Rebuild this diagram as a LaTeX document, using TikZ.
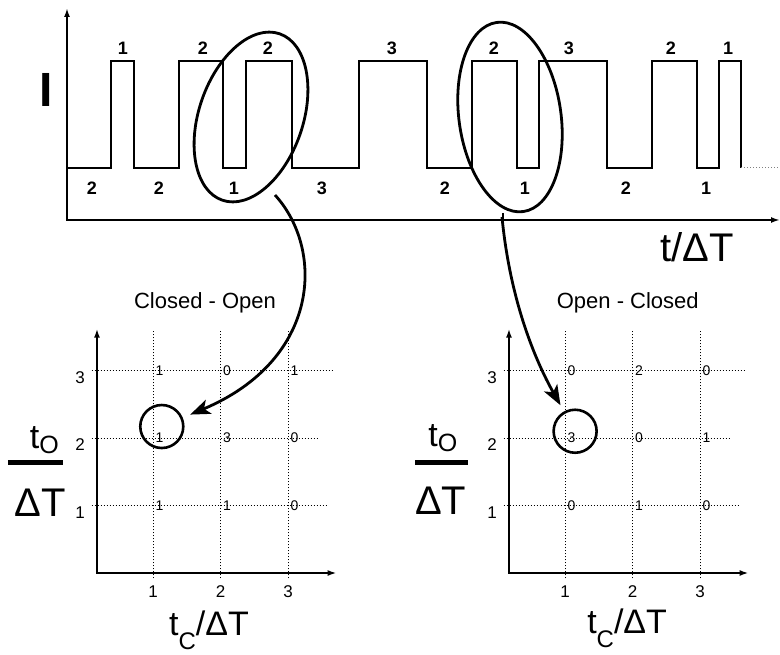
\documentclass[tikz,border=0pt]{standalone}
\usepackage{fontspec}
\setmainfont{Liberation Sans}
\usetikzlibrary{positioning, arrows.meta, shapes.geometric}

\begin{document}
\begin{tikzpicture}[
  x=1pt, y=-1pt,
  signal/.style={line width=1.8pt, line join=miter},
  axes/.style={line width=1.8pt, {Latex[length=9pt,width=6pt]}-{Latex[length=9pt,width=6pt]}},
  gridline/.style={dotted, line width=1pt},
  sel/.style={ellipse, draw, line width=2.8pt, inner sep=0pt},
  hit/.style={circle, draw, line width=2.6pt, minimum size=43pt, inner sep=0pt},
  jump/.style={line width=2.8pt, -{Stealth[length=20pt,width=15pt,inset=5pt]}},
  dwell/.style={font=\fontsize{18}{20}\selectfont\bfseries, inner sep=0pt, anchor=base},
  ticklabel/.style={font=\fontsize{17}{19}\selectfont, inner sep=0pt},
  cellcount/.style={font=\fontsize{14}{16}\selectfont, inner sep=1pt, anchor=west},
  plottitle/.style={font=\fontsize{22}{26}\selectfont, inner sep=0pt},
  biglabel/.style={font=\fontsize{40}{46}\selectfont, inner sep=0pt, anchor=base},
  fraclabel/.style={font=\fontsize{34}{40}\selectfont, inner sep=0pt, anchor=base}
]
\useasboundingbox (0,0) rectangle (780,655);

% current trace
\draw[axes] (67,8) -- (67,220) -- (780,220);
\draw[line width=1.8pt] (503,213) -- (503,228);
\draw[signal] (67,168) -| (111,61) -| (134,168) -| (179,61) -| (223,168) -| (246,61)
  -| (292,168) -| (359,61) -| (427,168) -| (472,61) -| (517,168) -| (539,61)
  -| (607,168) -| (652,61) -| (697,168) -| (719,61) -| (741,168);
\draw[gridline, gray] (741,168) -- (780,168);

\foreach \x/\v in {123/1, 203/2, 268/2, 392/3, 494/2, 569/3, 671/2, 728/1}
  \node[dwell] (hi-\x) at (\x,55) {\v};
\foreach \x/\v in {92/2, 159/2, 234/1, 322/3, 445/2, 525/1, 626/2, 706/1}
  \node[dwell] (lo-\x) at (\x,195) {\v};

\node[font=\fontsize{48}{50}\selectfont\bfseries, inner sep=0pt, anchor=base] (curr) at (46,107) {I};
\node[biglabel] (tlab) at (697,262) {t/ΔT};

% selected pairs
\node[sel, rotate=71, minimum width=176pt, minimum height=104pt] (sel1) at (251,117) {};
\node[sel, rotate=98, minimum width=191pt, minimum height=102pt] (sel2) at (510,117) {};
\coordinate (from1) at (275,195);
\coordinate (from2) at (502,217);

% closed - open histogram
\begin{scope}[shift={(85.5,573)}, x=67.5pt, y=67.5pt]
  \foreach \c in {1,2,3} \draw[gridline] (\c,-0.08) -- (\c,3.6);
  \foreach \r/\len in {1/3.59, 2/3.43, 3/3.67} \draw[gridline] (0.09,\r) -- (\len,\r);
  \draw[axes] (0.17,3.62) -- (0.17,0) -- (3.72,0);
  \foreach \k in {1,2,3} {
    \node[ticklabel] (cl-x\k) at (\k,-0.28) {\k};
    \node[ticklabel] (cl-y\k) at (-0.08,\k-0.1) {\k};
  }
  \foreach \c/\r/\v in {1/3/1, 2/3/0, 3/3/1, 1/2/1, 2/2/3, 3/2/0, 1/1/1, 2/1/1, 3/1/0}
    \node[cellcount] (cl-\c\r) at (\c+0.02,\r) {\v};
  \node[hit] (hit1) at (1.13,2.17) {};
  \node[plottitle] (title1) at (1.77,4.01) {Closed - Open};
  \node[fraclabel] (cl-num) at (-0.61,1.85) {t\raisebox{-5pt}{\fontsize{25}{28}\selectfont O}};
  \draw[line width=5pt] (-1.15,1.64) -- (-0.33,1.64);
  \node[fraclabel, font=\fontsize{40}{46}\selectfont] (cl-den) at (-0.67,0.83) {ΔT};
  \node[fraclabel] (cl-xlab) at (1.83,-0.92) {t\raisebox{-14pt}{\fontsize{24}{26}\selectfont C}/ΔT};
\end{scope}

% open - closed histogram
\begin{scope}[shift={(497.5,573)}, x=67.5pt, y=67.5pt]
  \foreach \c in {1,2,3} \draw[gridline] (\c,-0.08) -- (\c,3.6);
  \foreach \r/\len in {1/3.59, 2/3.43, 3/3.67} \draw[gridline] (0.09,\r) -- (\len,\r);
  \draw[axes] (0.17,3.62) -- (0.17,0) -- (3.72,0);
  \foreach \k in {1,2,3} {
    \node[ticklabel] (oc-x\k) at (\k,-0.28) {\k};
    \node[ticklabel] (oc-y\k) at (-0.08,\k-0.1) {\k};
  }
  \foreach \c/\r/\v in {1/3/0, 2/3/2, 3/3/0, 1/2/3, 2/2/0, 3/2/1, 1/1/0, 2/1/1, 3/1/0}
    \node[cellcount] (oc-\c\r) at (\c+0.02,\r) {\v};
  \node[hit] (hit2) at (1.15,2.1) {};
  \node[plottitle] (title2) at (1.93,4.0) {Open - Closed};
  \node[fraclabel] (oc-num) at (-0.81,1.88) {t\raisebox{-5pt}{\fontsize{25}{28}\selectfont O}};
  \draw[line width=5pt] (-1.22,1.64) -- (-0.44,1.64);
  \node[fraclabel, font=\fontsize{40}{46}\selectfont] (oc-den) at (-0.84,0.86) {ΔT};
  \node[fraclabel] (oc-xlab) at (1.92,-0.89) {t\raisebox{-14pt}{\fontsize{24}{26}\selectfont C}/ΔT};
\end{scope}

\draw[jump, shorten >=8pt] (from1) .. controls (325,250) and (320,360) .. (hit1);
\draw[jump, shorten >=7pt] (from2) .. controls (510,300) and (535,360) .. (hit2);

\end{tikzpicture}
\end{document}
